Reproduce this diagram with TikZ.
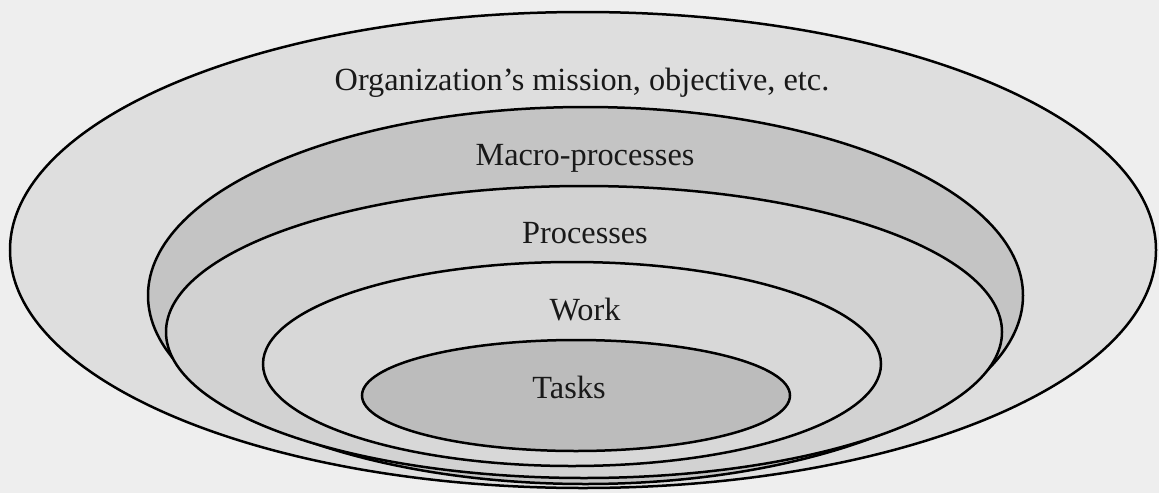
\documentclass[tikz,border=0pt]{standalone}
\usepackage{fontspec}
\setmainfont{Liberation Serif}
\definecolor{bgc}{RGB}{238,238,238}
\definecolor{orgc}{RGB}{222,222,222}
\definecolor{macroc}{RGB}{196,196,196}
\definecolor{procc}{RGB}{210,210,210}
\definecolor{workc}{RGB}{216,216,216}
\definecolor{taskc}{RGB}{188,188,188}
\begin{document}
\begin{tikzpicture}[x=1pt,y=-1pt,
  ring/.style={draw=black,line width=2.5pt},
  lbl/.style={anchor=base,inner sep=0pt,font=\fontsize{32.3}{38}\selectfont,text=black!90}]
\fill[bgc] (0,0) rectangle (1159,493);
\useasboundingbox (0,0) rectangle (1159,493);
\path[ring,fill=orgc]   (583,250)   ellipse [x radius=573pt, y radius=238pt];
\path[ring,fill=macroc] (585.5,295.5) ellipse [x radius=437.5pt, y radius=188.5pt];
\path[ring,fill=procc]  (584,332)   ellipse [x radius=418pt, y radius=146pt];
\path[ring,fill=workc]  (572,364)   ellipse [x radius=309pt, y radius=102pt];
\path[ring,fill=taskc]  (576,395.5) ellipse [x radius=214pt, y radius=55.5pt];
\node[lbl] (org) at (582,90) {Organization’s mission, objective, etc.};
\node[lbl] (macro) at (585,165) {Macro-processes};
\node[lbl] (proc) at (585,243) {Processes};
\node[lbl] (work) at (585,320) {Work};
\node[lbl] (tasks) at (569,398) {Tasks};
\end{tikzpicture}
\end{document}
